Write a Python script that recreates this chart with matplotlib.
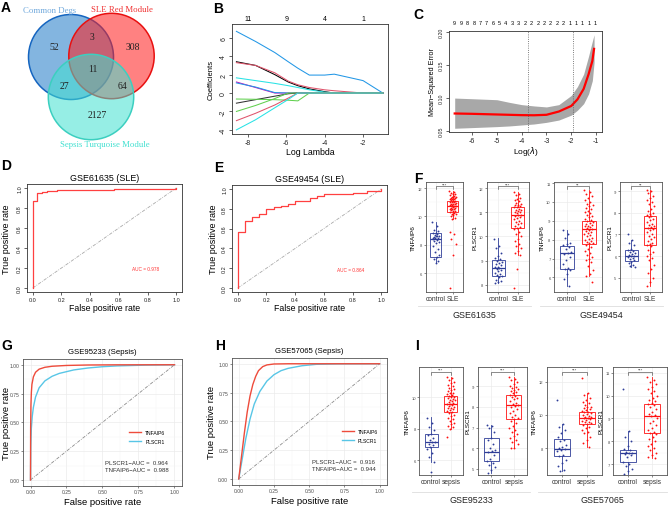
import matplotlib
matplotlib.use('Agg')
import matplotlib.pyplot as plt
from matplotlib.patches import Circle
from matplotlib.lines import Line2D
import numpy as np

# ---------------- data ----------------
# A: venn counts
venn_counts = {'52': (54, 48), '3': (92, 37), '308': (133, 48), '11': (93, 70),
               '27': (64, 87), '64': (122, 87), '2127': (97, 116)}
venn_sets = ['Common Degs', 'SLE Red Module', 'Sepsis Turquoise Module']

# B: lasso coefficient paths
lasso_loglam = [-8.6, -7.6, -6.6, -5.9, -5.4, -4.8, -4.0, -3.5, -2.0, -0.97]
coef_paths = [
    [6.7, 5.6, 4.4, 3.4, 2.7, 1.95, 1.95, 2.05, 1.35, 0.0],
    [3.4, 3.0, 2.0, 1.2, 0.8, 0.45, 0.15, 0.0, 0.0, 0.0],
    [3.3, 3.0, 2.2, 1.3, 0.9, 0.6, 0.35, 0.25, 0.0, 0.0],
    [1.65, 1.35, 1.05, 0.8, 0.6, 0.35, 0.1, 0.0, 0.0, 0.0],
    [1.2, 0.6, 0.0, 0.0, 0.0, 0.0, 0.0, 0.0, 0.0, 0.0],
    [1.1, 0.65, 0.05, 0.0, 0.0, 0.0, 0.0, 0.0, 0.0, 0.0],
    [-1.1, -0.72, -0.34, -0.08, 0.0, 0.0, 0.0, 0.0, 0.0, 0.0],
    [-0.65, -0.68, -0.72, -0.78, -0.85, 0.0, 0.0, 0.0, 0.0, 0.0],
    [-2.0, -1.35, -0.6, 0.0, 0.0, 0.0, 0.0, 0.0, 0.0, 0.0],
    [-3.0, -2.2, -1.3, -0.55, 0.0, 0.0, 0.0, 0.0, 0.0, 0.0],
    [-4.0, -2.9, -1.6, -0.7, 0.0, 0.0, 0.0, 0.0, 0.0, 0.0],
]
lasso_top_ticks = [-8, -6, -4, -2]
lasso_top_df = ['11', '9', '4', '1']

# C: cross-validation curve
cv_loglam = [-6.7, -6.0, -5.0, -4.5, -4.0, -3.5, -3.0, -2.5, -2.0, -1.75, -1.5, -1.3, -1.15, -1.08]
cv_mean = [0.0760, 0.0755, 0.0745, 0.0740, 0.0735, 0.0733, 0.0740, 0.0790, 0.0875, 0.0975,
           0.1135, 0.1360, 0.1560, 0.1745]
cv_upper = [0.0995, 0.0985, 0.0970, 0.0930, 0.0895, 0.0875, 0.0860, 0.0895, 0.1035, 0.1170,
            0.1360, 0.1635, 0.1860, 0.1960]
cv_lower = [0.0535, 0.0545, 0.0560, 0.0570, 0.0585, 0.0600, 0.0625, 0.0660, 0.0735, 0.0810,
            0.0910, 0.1060, 0.1260, 0.1535]
cv_lambda_min = -3.73
cv_lambda_1se = -1.94
cv_nz = ['9', '9', '8', '8', '7', '7', '6', '5', '4', '3', '3', '2', '2', '2', '2', '2', '2', '2',
         '1', '1', '1', '1', '1']

# D, E: SLE ROC (empirical)
d_fpr = [0, 0, 0.033, 0.033, 0.067, 0.067, 0.1, 0.1, 0.167, 0.167, 0.567, 0.567, 1.0, 1.0]
d_tpr = [0, 0.87, 0.87, 0.95, 0.95, 0.96, 0.96, 0.97, 0.97, 0.98, 0.98, 0.99, 0.99, 1.0]
e_fpr = [0, 0, 0.05, 0.05, 0.1, 0.1, 0.15, 0.15, 0.2, 0.2, 0.25, 0.25, 0.3, 0.3, 0.35, 0.35,
         0.4, 0.4, 0.5, 0.5, 0.55, 0.55, 0.6, 0.6, 0.8, 0.8, 0.9, 0.9, 1.0, 1.0]
e_tpr = [0, 0.57, 0.57, 0.68, 0.68, 0.72, 0.72, 0.75, 0.75, 0.80, 0.80, 0.82, 0.82, 0.83, 0.83,
         0.845, 0.845, 0.875, 0.875, 0.91, 0.91, 0.925, 0.925, 0.945, 0.945, 0.955, 0.955, 0.98,
         0.98, 1.0]
d_auc, e_auc = 0.978, 0.864

# G, H: sepsis ROC (smoothed)
g_tnf_fpr = [0, 0.001, 0.003, 0.006, 0.01, 0.02, 0.035, 0.06, 0.1, 0.15, 0.25, 0.4, 0.6, 1.0]
g_tnf_tpr = [0, 0.45, 0.65, 0.76, 0.83, 0.895, 0.935, 0.962, 0.978, 0.987, 0.994, 0.998, 0.9995, 1.0]
g_pls_fpr = [0, 0.002, 0.006, 0.012, 0.02, 0.035, 0.06, 0.1, 0.15, 0.2, 0.3, 0.4, 0.5, 0.6, 0.8, 1.0]
g_pls_tpr = [0, 0.3, 0.45, 0.55, 0.63, 0.72, 0.8, 0.86, 0.9, 0.925, 0.955, 0.972, 0.983, 0.99, 0.997, 1.0]
h_tnf_fpr = [0, 0.02, 0.04, 0.06, 0.08, 0.1, 0.12, 0.14, 0.17, 0.2, 0.25, 0.35, 1.0]
h_tnf_tpr = [0, 0.2, 0.4, 0.58, 0.72, 0.82, 0.89, 0.94, 0.975, 0.99, 0.998, 1.0, 1.0]
h_pls_fpr = [0, 0.02, 0.05, 0.08, 0.11, 0.15, 0.2, 0.25, 0.3, 0.35, 0.45, 0.55, 0.7, 1.0]
h_pls_tpr = [0, 0.14, 0.35, 0.52, 0.65, 0.76, 0.85, 0.905, 0.94, 0.96, 0.983, 0.995, 0.999, 1.0]
g_auc = {'PLSCR1': 0.964, 'TNFAIP6': 0.988}
h_auc = {'PLSCR1': 0.916, 'TNFAIP6': 0.944}

# F, I: expression box plots  (box stats = whislo, q1, median, q3, whishi)
f1_ctrl = [9.6, 9.3, 9.05, 8.95, 8.85, 8.8, 8.75, 8.7, 8.65, 8.6, 8.55, 8.5, 8.45, 8.4, 8.35, 8.3,
           8.2, 8.1, 7.95, 7.7, 7.5, 7.3, 7.15, 7.0, 6.85, 6.7, 8.5, 8.6]
f1_sle = [11.8, 11.7, 11.65, 11.6, 11.55, 11.5, 11.45, 11.4, 11.4, 11.35, 11.3, 11.3, 11.25, 11.2,
          11.2, 11.15, 11.1, 11.1, 11.05, 11.0, 11.0, 10.95, 10.9, 10.9, 10.85, 10.8, 10.8, 10.75,
          10.7, 10.7, 10.65, 10.6, 10.6, 10.55, 10.5, 10.5, 10.45, 10.4, 10.35, 10.3, 10.25, 10.2,
          10.15, 10.1, 10.0, 9.9, 9.8, 8.9, 8.75, 8.4, 8.05, 7.25, 4.95]
f1_ctrl_box = [6.7, 7.16, 8.4, 8.83, 9.6]
f1_sle_box = [9.8, 10.3, 10.7, 11.1, 11.8]

f2_ctrl = [9.9, 9.6, 9.5, 9.3, 9.2, 9.1, 9.05, 9.0, 8.95, 8.9, 8.85, 8.8, 8.75, 8.72, 8.7, 8.65,
           8.6, 8.55, 8.5, 8.45, 8.4, 8.35, 8.3, 8.2, 8.15, 8.1, 8.06]
f2_sle = [11.85, 11.75, 11.7, 11.6, 11.55, 11.5, 11.45, 11.4, 11.35, 11.3, 11.3, 11.25, 11.2, 11.2,
          11.15, 11.1, 11.1, 11.05, 11.0, 11.0, 10.95, 10.9, 10.9, 10.85, 10.8, 10.75, 10.7, 10.65,
          10.6, 10.55, 10.5, 10.45, 10.4, 10.35, 10.3, 10.2, 10.1, 10.0, 9.9, 9.8, 9.7, 9.6, 9.5,
          9.4, 9.3, 9.25, 8.65, 7.85]
f2_ctrl_box = [8.06, 8.35, 8.7, 9.03, 9.95]
f2_sle_box = [9.25, 10.35, 10.9, 11.2, 11.85]

f3_ctrl = [8.5, 8.3, 8.1, 7.85, 7.75, 7.7, 7.6, 7.5, 7.35, 7.3, 7.25, 7.1, 6.9, 6.7, 6.5, 6.45,
           6.4, 6.2, 5.9, 5.55]
f3_sle = [10.65, 10.5, 10.4, 10.3, 10.2, 10.1, 10.0, 9.9, 9.85, 9.8, 9.7, 9.6, 9.5, 9.45, 9.4, 9.3,
          9.25, 9.2, 9.1, 9.05, 9.0, 8.95, 8.9, 8.85, 8.8, 8.75, 8.7, 8.65, 8.6, 8.55, 8.5, 8.45,
          8.4, 8.35, 8.3, 8.25, 8.2, 8.1, 8.05, 8.0, 7.95, 7.9, 7.85, 7.8, 7.7, 7.6, 7.5, 7.4, 7.3,
          7.2, 7.1, 7.0, 6.9, 6.8, 6.6, 6.4, 6.2, 6.1, 5.75]
f3_ctrl_box = [5.55, 6.45, 7.28, 7.68, 8.5]
f3_sle_box = [6.1, 7.78, 8.55, 8.98, 10.65]

f4_ctrl = [7.0, 6.75, 6.6, 6.5, 6.35, 6.3, 6.25, 6.2, 6.15, 6.1, 6.05, 6.0, 6.0, 5.95, 5.9, 5.85,
           5.8, 5.75, 5.7, 5.6, 5.55, 5.5]
f4_sle = [9.05, 9.0, 8.9, 8.8, 8.7, 8.6, 8.5, 8.4, 8.3, 8.2, 8.1, 8.0, 7.95, 7.9, 7.85, 7.8, 7.7,
          7.65, 7.6, 7.5, 7.45, 7.4, 7.35, 7.3, 7.25, 7.2, 7.1, 7.0, 6.95, 6.9, 6.8, 6.7, 6.6, 6.55,
          6.5, 6.45, 6.3, 6.2, 6.1, 6.0, 5.9, 5.8, 5.6, 5.4, 5.2, 5.0, 4.8, 4.6]
f4_ctrl_box = [5.5, 5.78, 6.0, 6.27, 6.75]
f4_sle_box = [4.6, 6.5, 7.3, 7.87, 9.05]

i1_ctrl = [8.7, 8.4, 8.1, 7.9, 7.7, 7.6, 7.45, 7.3, 7.2, 7.15, 7.05, 6.95, 6.85, 6.7, 6.5, 6.2,
           5.9, 5.25]
i1_sep = [11.3, 11.2, 11.1, 11.0, 10.9, 10.8, 10.7, 10.6, 10.5, 10.45, 10.4, 10.3, 10.25, 10.2,
          10.15, 10.1, 10.05, 10.0, 9.95, 9.9, 9.85, 9.8, 9.75, 9.7, 9.65, 9.6, 9.55, 9.5, 9.45,
          9.4, 9.35, 9.3, 9.25, 9.2, 9.15, 9.1, 9.0, 8.9, 8.8, 8.7, 8.6, 8.5, 8.4, 8.3, 8.2, 8.1,
          8.0, 7.5]
i1_ctrl_box = [5.9, 6.84, 7.2, 7.68, 8.73]
i1_sep_box = [8.0, 9.1, 9.6, 10.1, 11.3]

i2_ctrl = [7.15, 7.1, 7.0, 6.8, 6.5, 6.4, 6.2, 6.0, 5.9, 5.85, 5.8, 5.7, 5.5, 5.4, 5.3, 5.2, 5.1,
           4.95, 4.8]
i2_sep = [9.45, 9.35, 9.3, 9.2, 9.1, 9.0, 8.95, 8.9, 8.85, 8.8, 8.75, 8.7, 8.65, 8.6, 8.55, 8.5,
          8.45, 8.4, 8.3, 8.2, 8.15, 8.1, 8.05, 8.0, 7.9, 7.8, 7.7, 7.6, 7.5, 7.45, 7.4, 7.3, 7.2,
          7.1, 7.0, 6.9, 6.8, 6.7, 6.6, 6.5, 6.4, 6.3, 6.2, 6.0, 6.0]
i2_ctrl_box = [4.8, 5.38, 5.82, 6.5, 7.15]
i2_sep_box = [6.0, 7.4, 8.1, 8.6, 9.45]

i3_ctrl = [10.9, 9.45, 9.3, 9.1, 8.9, 8.7, 8.5, 8.4, 8.2, 8.05, 8.0, 7.95, 7.9, 7.8, 7.6, 7.5,
           7.3, 7.1, 6.9, 6.7, 6.6]
i3_sep = [12.2, 11.3, 11.2, 11.0, 10.9, 10.8, 10.7, 10.6, 10.5, 10.45, 10.4, 10.35, 10.3, 10.25,
          10.2, 10.15, 10.1, 10.05, 10.0, 9.95, 9.9, 9.85, 9.8, 9.8, 9.75, 9.7, 9.65, 9.6, 9.55,
          9.5, 9.45, 9.4, 9.3, 9.2, 9.1, 9.0, 8.9, 8.7, 8.5, 8.3, 8.05]
i3_ctrl_box = [6.6, 7.54, 7.97, 8.55, 9.45]
i3_sep_box = [8.05, 9.45, 9.8, 10.15, 11.3]

i4_ctrl = [10.3, 8.45, 8.2, 8.0, 7.8, 7.65, 7.6, 7.55, 7.5, 7.5, 7.45, 7.4, 7.3, 7.1, 7.0, 6.9,
           6.8, 6.7, 6.55]
i4_sep = [10.8, 10.7, 10.6, 10.5, 10.4, 10.3, 10.2, 10.1, 10.0, 9.9, 9.8, 9.75, 9.7, 9.65, 9.6,
          9.5, 9.4, 9.3, 9.2, 9.15, 9.1, 9.0, 8.9, 8.8, 8.7, 8.6, 8.5, 8.4, 8.35, 8.3, 8.2, 8.1,
          8.0, 7.9, 7.8, 7.7, 7.6, 7.5, 7.4, 7.3, 7.25]
i4_ctrl_box = [6.55, 7.07, 7.5, 7.63, 8.45]
i4_sep_box = [7.25, 8.35, 9.12, 9.64, 10.8]

# ---------------- style ----------------
W, H = 669, 510
plt.rcParams.update({
    'font.family': 'Liberation Sans',
    'font.size': 6,
    'axes.linewidth': 0.6,
})
RED_ROC = '#EE4B3B'
CYAN_ROC = '#58C6E6'
BLUE_PT = '#2E3D98'
RED_PT = '#FF1010'
coef_colors = ['#2297E6', '#000000', '#DF536B', '#28E2E5', '#CD0BBC', '#2297E6',
               '#333333', '#61D04F', '#61D04F', '#DF536B', '#28E2E5']

fig = plt.figure(figsize=(W / 100, H / 100), dpi=100)


def px_axes(l, t, r, b):
    return fig.add_axes([l / W, 1 - b / H, (r - l) / W, (b - t) / H])


def fig_text(x, y, s, **kw):
    fig.text(x / W, 1 - y / H, s, **kw)


def ylabel_at(ax, box, x_px, text, fs):
    # x_px = figure pixel column of the label's right edge
    l, t, r, b = box
    ax.set_ylabel(text, fontsize=fs)
    ax.yaxis.set_label_coords((x_px - l) / (r - l), 0.5)


def base_r(ax, xticks, yticks, xlabels, ylabels, fs):
    ax.set_xticks(xticks)
    ax.set_xticklabels(xlabels)
    ax.set_yticks(yticks)
    ax.set_yticklabels(ylabels, rotation=90, va='center')
    ax.tick_params(direction='out', length=2, width=0.5, labelsize=fs, pad=1.5, colors='#222222')
    for s in ax.spines.values():
        s.set_color('#333333')
        s.set_linewidth(0.6)


def gg_style(ax, fs=3.6):
    for s in ax.spines.values():
        s.set_color('#555555')
        s.set_linewidth(0.6)
    ax.grid(True, which='both', color='#EBEBEB', lw=0.5)
    ax.set_axisbelow(True)
    ax.tick_params(direction='out', length=1.5, width=0.4, color='#333333', labelsize=fs,
                   labelcolor='#4D4D4D', pad=1)
    ax.tick_params(which='minor', length=0)


def jitter(n, width):
    return (((np.arange(n) * 0.6180339887) % 1.0) - 0.5) * 2 * width


# panel letters
for lab, x, y in [('A', 1, 8), ('B', 213, 9), ('C', 413, 15), ('D', 1, 166), ('E', 214, 168),
                  ('F', 414, 179), ('G', 1, 346), ('H', 215, 346), ('I', 415, 346)]:
    fig_text(x, y, lab, fontsize=10, fontweight='bold', ha='left', va='center')

# ---------------- A: Venn ----------------
ax = px_axes(0, 0, 215, 165)
ax.set_xlim(0, 215)
ax.set_ylim(165, 0)
ax.axis('off')
for (cx, cy, r), fc, ec in [((71, 58, 42.5), '#1E78C8', '#1565C0'),
                            ((111.5, 57, 42.7), '#FF1A1A', '#E81010'),
                            ((91, 98, 42.7), '#40E0D0', '#3CCFC0')]:
    ax.add_patch(Circle((cx, cy), r, facecolor=fc, alpha=0.55, edgecolor='none'))
    ax.add_patch(Circle((cx, cy), r, facecolor='none', edgecolor=ec, lw=1.1))
for txt, (x, y) in venn_counts.items():
    ax.text(x, y, txt, ha='center', va='center', fontsize=7, family='Liberation Serif', color='#222222')
for txt, (x, y), col in zip(venn_sets, [(50, 11), (122, 9.5), (105, 145)],
                            ['#6FA8DC', '#F03030', '#40E0D0']):
    ax.text(x, y, txt, ha='center', va='center', fontsize=6.3, family='Liberation Serif', color=col)

# ---------------- B: LASSO paths ----------------
box = (232, 25, 388, 135)
ax = px_axes(*box)
for coefs, col in zip(coef_paths, coef_colors):
    ax.plot(lasso_loglam, coefs, color=col, lw=0.75)
ax.set_xlim(-8.83, -0.70)
ax.set_ylim(-4.45, 7.5)
base_r(ax, [-8, -6, -4, -2], [-4, -2, 0, 2, 4, 6], ['-8', '-6', '-4', '-2'],
       ['-4', '-2', '0', '2', '4', '6'], 5)
for xt, df in zip(lasso_top_ticks, lasso_top_df):
    ax.text(xt, 1.02, df, transform=ax.get_xaxis_transform(), ha='center', va='bottom', fontsize=5)
ax.set_xlabel('Log Lambda', fontsize=6.3, labelpad=1)
ylabel_at(ax, box, 215, 'Coefficients', 5.5)

# ---------------- C: CV curve ----------------
box = (449, 32, 602, 133)
ax = px_axes(*box)
ax.fill_between(cv_loglam, cv_lower, cv_upper, color='#A8A8A8', lw=0)
ax.plot(cv_loglam, cv_mean, color='#FF0000', lw=1.6)
ax.axvline(cv_lambda_min, color='#555555', ls=':', lw=0.6)
ax.axvline(cv_lambda_1se, color='#555555', ls=':', lw=0.6)
ax.set_xlim(-6.93, -0.76)
ax.set_ylim(0.0478, 0.2017)
base_r(ax, [-6, -5, -4, -3, -2, -1], [0.05, 0.10, 0.15, 0.20],
       ['-6', '-5', '-4', '-3', '-2', '-1'], ['0.05', '0.10', '0.15', '0.20'], 5)
ax.tick_params(axis='y', labelsize=3.8)
for xt, nz in zip(np.linspace(cv_loglam[0], -1.03, len(cv_nz)), cv_nz):
    ax.text(xt, 1.06, nz, transform=ax.get_xaxis_transform(), ha='center', va='bottom', fontsize=4)
ax.set_xlabel('Log($\\lambda$)', fontsize=6, labelpad=0)
ylabel_at(ax, box, 436, 'Mean\u2212Squared Error', 5.2)

# ---------------- D, E: SLE ROC ----------------
for box, fpr, tpr, auc, title, ylx in [((27, 185, 182, 293), d_fpr, d_tpr, d_auc, 'GSE61635 (SLE)', 11),
                                       ((232, 186, 387, 293), e_fpr, e_tpr, e_auc, 'GSE49454 (SLE)', 218)]:
    ax = px_axes(*box)
    ax.plot([0, 1], [0, 1], color='#AAAAAA', lw=0.6, dashes=[4, 1.5, 1, 1.5])
    ax.plot(fpr, tpr, color='#FF4040', lw=0.9)
    ax.set_xlim(-0.04, 1.04)
    ax.set_ylim(-0.04, 1.04)
    tk = [0, 0.2, 0.4, 0.6, 0.8, 1.0]
    tl = ['0.0', '0.2', '0.4', '0.6', '0.8', '1.0']
    base_r(ax, tk, tk, tl, tl, 4)
    ax.text(0.79, 0.19, 'AUC = %.3f' % auc, color='#FF3030', fontsize=3.4, ha='center', va='center')
    ax.set_title(title, fontsize=6.4, pad=3)
    ax.set_xlabel('False positive rate', fontsize=6.3, labelpad=1)
    ylabel_at(ax, box, ylx, 'True positive rate', 6.5)

# ---------------- G, H: sepsis ROC ----------------
for box, tf, tt, pf, pt, aucs, title, lgx, ylx in [
        ((23.3, 360, 181.7, 486.7), g_tnf_fpr, g_tnf_tpr, g_pls_fpr, g_pls_tpr, g_auc, 'GSE95233 (Sepsis)', 0.64, 11),
        ((231.7, 359, 386.7, 485.7), h_tnf_fpr, h_tnf_tpr, h_pls_fpr, h_pls_tpr, h_auc, 'GSE57065 (Sepsis)', 0.68, 216)]:
    ax = px_axes(*box)
    gg_style(ax, fs=3.6)
    ax.plot([0, 1], [0, 1], color='#8C8C8C', lw=0.6, dashes=[4, 1.5, 1, 1.5])
    l2, = ax.plot(pf, pt, color=CYAN_ROC, lw=1.0)
    l1, = ax.plot(tf, tt, color=RED_ROC, lw=1.0)
    ax.set_xlim(-0.05, 1.05)
    ax.set_ylim(-0.05, 1.05)
    tk = [0, 0.25, 0.5, 0.75, 1.0]
    ax.set_xticks(tk)
    ax.set_yticks(tk)
    ax.set_xticklabels(['0.00', '0.25', '0.50', '0.75', '1.00'])
    ax.set_yticklabels(['0.00', '0.25', '0.50', '0.75', '1.00'])
    mt = [0.125, 0.375, 0.625, 0.875]
    ax.set_xticks(mt, minor=True)
    ax.set_yticks(mt, minor=True)
    ax.grid(True, which='minor', color='#F4F4F4', lw=0.3)
    ax.legend([l1, l2], ['TNFAIP6', 'PLSCR1'], loc='center left', bbox_to_anchor=(lgx, 0.385),
              frameon=False, fontsize=3.6, handlelength=2.4, labelspacing=0.9, handletextpad=0.8)
    ax.text(0.52, 0.15, 'PLSCR1\u2212AUC =  %.3f' % aucs['PLSCR1'], fontsize=4.3, color='#333333',
            ha='left', va='center')
    ax.text(0.52, 0.087, 'TNFAIP6\u2212AUC =  %.3f' % aucs['TNFAIP6'], fontsize=4.3, color='#333333',
            ha='left', va='center')
    ax.set_title(title, fontsize=5.6, pad=4)
    ax.set_xlabel('False positive rate', fontsize=6.8, labelpad=2)
    ylabel_at(ax, box, ylx, 'True positive rate', 6.8)


# ---------------- F, I: box plots ----------------
def box_panel(box, ylabel, ylim, yticks, groups, pts, stats, stars):
    ax = px_axes(*box)
    gg_style(ax, fs=3.0)
    for i, (p, st, col) in enumerate(zip(pts, stats, [BLUE_PT, RED_PT])):
        x = i + 1
        bx = dict(whislo=st[0], q1=st[1], med=st[2], q3=st[3], whishi=st[4], fliers=[])
        ax.bxp([bx], positions=[x], widths=0.65, showcaps=False, showfliers=False, patch_artist=True,
               boxprops=dict(facecolor='none', edgecolor=col, lw=0.6),
               medianprops=dict(color=col, lw=0.9), whiskerprops=dict(color=col, lw=0.6))
        ax.scatter(x + jitter(len(p), 0.2), p, s=1.8, color=col, lw=0, zorder=3)
    ax.set_xlim(0.4, 2.6)
    ax.set_ylim(*ylim)
    ax.set_xticks([1, 2])
    ax.set_xticklabels(groups)
    ax.tick_params(axis='x', labelsize=4.8, labelcolor='#333333')
    ax.set_yticks(yticks)
    ax.set_yticklabels([str(v) for v in yticks])
    mt = [(a + b) / 2 for a, b in zip(yticks[:-1], yticks[1:])]
    ax.set_yticks(mt, minor=True)
    ax.grid(True, which='minor', axis='y', color='#F4F4F4', lw=0.3)
    rng = ylim[1] - ylim[0]
    y0 = ylim[1] - 0.045 * rng
    ax.plot([1, 1, 2, 2], [y0 - 0.025 * rng, y0, y0, y0 - 0.025 * rng], color='#333333', lw=0.4)
    ax.text(1.5, y0, stars, ha='center', va='bottom', fontsize=3.2, color='#333333')
    ax.set_ylabel(ylabel, fontsize=4.6, labelpad=1)
    return ax


box_panel((425.7, 182.5, 463, 293), 'TNFAIP6', (4.68, 12.46), [6, 8, 10, 12], ['control', 'SLE'],
          [f1_ctrl, f1_sle], [f1_ctrl_box, f1_sle_box], '***')
box_panel((486.7, 182.5, 529.3, 293), 'PLSCR1', (7.70, 12.27), [8, 9, 10, 11, 12], ['control', 'SLE'],
          [f2_ctrl, f2_sle], [f2_ctrl_box, f2_sle_box], '***')
box_panel((554, 182.5, 601.7, 293), 'TNFAIP6', (5.23, 11.08), [6, 7, 8, 9, 10, 11], ['control', 'SLE'],
          [f3_ctrl, f3_sle], [f3_ctrl_box, f3_sle_box], '**')
box_panel((620, 182.5, 661.7, 293), 'PLSCR1', (4.34, 9.45), [5, 6, 7, 8, 9], ['control', 'SLE'],
          [f4_ctrl, f4_sle], [f4_ctrl_box, f4_sle_box], '**')

box_panel((419.3, 368, 462.7, 476), 'TNFAIP6', (5.08, 11.92), [6, 8, 10], ['control', 'sepsis'],
          [i1_ctrl, i1_sep], [i1_ctrl_box, i1_sep_box], '***')
box_panel((477.7, 368, 527.3, 476), 'PLSCR1', (4.71, 9.93), [5, 6, 7, 8, 9], ['control', 'sepsis'],
          [i2_ctrl, i2_sep], [i2_ctrl_box, i2_sep_box], '***')
box_panel((546.7, 368, 601.7, 476), 'TNFAIP6', (6.38, 12.89), [8, 10, 12], ['control', 'sepsis'],
          [i3_ctrl, i3_sep], [i3_ctrl_box, i3_sep_box], '***')
box_panel((613.3, 368, 667, 476), 'PLSCR1', (6.52, 11.26), [7, 8, 9, 10, 11], ['control', 'sepsis'],
          [i4_ctrl, i4_sep], [i4_ctrl_box, i4_sep_box], '***')

# dataset group labels
for name, x0, x1, y_line, y_txt in [('GSE61635', 418, 531, 307, 315), ('GSE49454', 540, 663, 307, 315),
                                    ('GSE95233', 412, 530, 493, 501), ('GSE57065', 538, 667, 493, 501)]:
    fig.add_artist(Line2D([x0 / W, x1 / W], [1 - y_line / H] * 2, color='#DDDDDD', lw=0.6))
    fig_text((x0 + x1) / 2, y_txt, name, fontsize=6.4, ha='center', va='center', color='#222222')

fig.savefig('out.png', dpi=100)
